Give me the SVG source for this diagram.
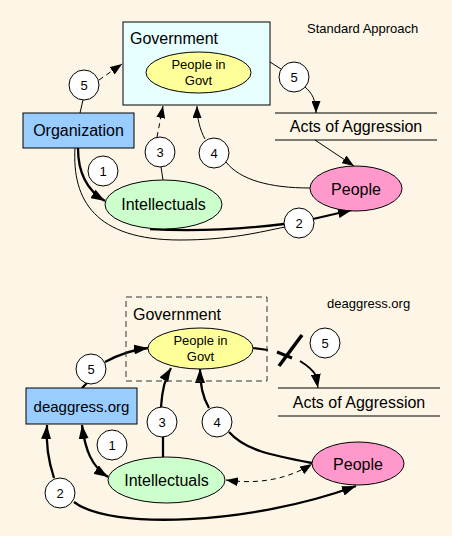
<svg xmlns="http://www.w3.org/2000/svg" width="452" height="536" viewBox="0 0 452 536">
<defs>
<style>
text{font-family:"Liberation Sans",Arial,sans-serif;fill:#000}
.big{font-size:16px}
.mid{font-size:15px}
.sm{font-size:13px}
.num{font-size:13px;text-anchor:middle}
.c{text-anchor:middle}
.node{stroke:#000;stroke-width:1}
.circ{fill:#fff;stroke:#000;stroke-width:1}
.e{fill:none;stroke:#000}
.thin{stroke-width:1}
.thick{stroke-width:2.3}
.dash{stroke-dasharray:5,4}
</style>
<marker id="ah" markerUnits="userSpaceOnUse" viewBox="0 0 14 10" refX="14" refY="5" markerWidth="14" markerHeight="10" orient="auto-start-reverse">
<path d="M0,0 L14,5 L0,10 Z" fill="#000"/>
</marker>
<marker id="ahs" markerUnits="userSpaceOnUse" viewBox="0 0 12 9" refX="12" refY="4.5" markerWidth="12" markerHeight="9" orient="auto-start-reverse">
<path d="M0,0 L12,4.5 L0,9 Z" fill="#000"/>
</marker>
</defs>
<rect x="0" y="0" width="452" height="536" fill="#FDF6E6"/>

<!-- ===== Top diagram ===== -->
<text class="sm" x="307" y="32.5">Standard Approach</text>

<g id="top-connectors">
<path class="e thin" d="M80,113 L83,100"/>
<path class="e thin dash" d="M99,80 L122,64" marker-end="url(#ahs)"/>
<path class="e thick" d="M78,148 C78,175 88,191 105,201" marker-end="url(#ah)"/>
<path class="e thin" d="M75,148 C72,200 95,240 180,240 C230,240 260,232 285,227"/>
<path class="e thick" d="M150,229 C200,232 250,228 284,224"/>
<path class="e thick" d="M313,219 L352,210" marker-end="url(#ah)"/>
<path class="e thin" d="M163,180 L161,167"/>
<path class="e thin dash" d="M157,137 L163,106" marker-end="url(#ahs)"/>
<path class="e thin" d="M310,188 C270,188 240,180 226,162"/>
<path class="e thin" d="M205,139 C200,130 197,118 197,106" marker-end="url(#ahs)"/>
<path class="e thin" d="M270,62 L281,69"/>
<path class="e thin" d="M305,87 C312,93 316,100 316,113" marker-end="url(#ahs)"/>
<path class="e thin" d="M315,140 L354,166" marker-end="url(#ahs)"/>
</g>

<g id="top-government">
<rect class="node" x="123" y="22" width="147" height="83" fill="#E8FFFF"/>
<text class="big" x="130" y="44">Government</text>
</g>
<g id="top-people-in-govt">
<ellipse class="node" cx="198.5" cy="72.5" rx="52.5" ry="20.5" fill="#FFFF99"/>
<text class="sm c" x="198.5" y="68.5">People in</text>
<text class="sm c" x="198.5" y="84.5">Govt</text>
</g>
<g id="top-organization">
<rect class="node" x="23" y="113" width="111" height="35" fill="#99CCFF"/>
<text class="big c" x="78.5" y="136">Organization</text>
</g>
<g id="top-intellectuals">
<ellipse class="node" cx="163.5" cy="204.5" rx="58.5" ry="24.5" fill="#CCFFCC"/>
<text class="big c" x="163.5" y="210">Intellectuals</text>
</g>
<g id="top-people">
<ellipse class="node" cx="356" cy="188.5" rx="46" ry="22.5" fill="#FF99CC"/>
<text class="big c" x="356" y="194.5">People</text>
</g>
<g id="top-acts">
<line x1="275" y1="113" x2="437" y2="113" stroke="#000" stroke-width="1"/>
<line x1="275" y1="140" x2="437" y2="140" stroke="#000" stroke-width="1"/>
<text class="big c" x="356" y="131.5">Acts of Aggression</text>
</g>
<g id="top-step-labels">
<circle class="circ" cx="84" cy="85" r="15"/><text class="num" x="84" y="89.5">5</text>
<circle class="circ" cx="103" cy="171" r="15"/><text class="num" x="103" y="175.5">1</text>
<circle class="circ" cx="160" cy="152" r="15"/><text class="num" x="160" y="156.5">3</text>
<circle class="circ" cx="214" cy="153" r="15"/><text class="num" x="214" y="157.5">4</text>
<circle class="circ" cx="294" cy="77" r="15"/><text class="num" x="294" y="81.5">5</text>
<circle class="circ" cx="299" cy="223" r="15"/><text class="num" x="299" y="227.5">2</text>
</g>

<!-- ===== Bottom diagram ===== -->
<text class="sm" x="327" y="307.5">deaggress.org</text>

<g id="bottom-connectors">
<path class="e thick" d="M82,388 L87,383"/>
<path class="e thick" d="M105,362 C118,355 130,350 148,348" marker-end="url(#ah)"/>
<path class="e thick" d="M163,457 L163,437"/>
<path class="e thick" d="M161,407 C162,390 165,378 171,368" marker-end="url(#ah)"/>
<path class="e thick" d="M312,463 C270,455 245,450 229,432"/>
<path class="e thick" d="M209,408 C203,398 200,385 200,369" marker-end="url(#ah)"/>
<path class="e thick" d="M82,425 C85,450 92,467 108,477" marker-start="url(#ah)" marker-end="url(#ah)"/>
<path class="e thick" d="M54,478 C48,460 46,440 47,425" marker-end="url(#ah)"/>
<path class="e thick" d="M74,502 C110,530 250,525 356,486" marker-end="url(#ah)"/>
<path class="e thin dash" d="M226,480 C260,485 290,478 312,464" marker-start="url(#ahs)" marker-end="url(#ahs)"/>
<path class="e" stroke-width="2" d="M253,348 L268,350"/>
<path class="e" stroke-width="3" d="M277,352 L292,358"/>
<path class="e" stroke-width="2" d="M300,361 C308,366 314,371 316,376" />
<path class="e" stroke-width="1" d="M316,376 L318,388" marker-end="url(#ah)"/>
<path class="e" stroke-width="3.5" d="M279,366 L302,335"/>
</g>

<g id="bottom-government">
<rect x="126" y="297" width="141" height="84" fill="none" stroke="#333" stroke-width="1" stroke-dasharray="6,4"/>
<text class="big" x="133" y="319.5">Government</text>
</g>
<g id="bottom-people-in-govt">
<ellipse class="node" cx="200.5" cy="348.5" rx="52.5" ry="20.5" fill="#FFFF99"/>
<text class="sm c" x="200.5" y="344.5">People in</text>
<text class="sm c" x="200.5" y="360.5">Govt</text>
</g>
<g id="bottom-deaggress">
<rect class="node" x="26" y="388" width="111" height="36" fill="#99CCFF"/>
<text class="mid c" x="81.5" y="411.5">deaggress.org</text>
</g>
<g id="bottom-intellectuals">
<ellipse class="node" cx="166.5" cy="480" rx="58.5" ry="23" fill="#CCFFCC"/>
<text class="big c" x="166.5" y="485.5">Intellectuals</text>
</g>
<g id="bottom-people">
<ellipse class="node" cx="358" cy="463.5" rx="46" ry="21.5" fill="#FF99CC"/>
<text class="big c" x="358" y="469.5">People</text>
</g>
<g id="bottom-acts">
<line x1="278" y1="388" x2="440" y2="388" stroke="#000" stroke-width="1"/>
<line x1="278" y1="416" x2="440" y2="416" stroke="#000" stroke-width="1"/>
<text class="big c" x="359" y="407.5">Acts of Aggression</text>
</g>
<g id="bottom-step-labels">
<circle class="circ" cx="91" cy="369" r="15"/><text class="num" x="91" y="373.5">5</text>
<circle class="circ" cx="112" cy="445" r="15"/><text class="num" x="112" y="449.5">1</text>
<circle class="circ" cx="162" cy="422" r="15"/><text class="num" x="162" y="426.5">3</text>
<circle class="circ" cx="217" cy="422" r="15"/><text class="num" x="217" y="426.5">4</text>
<circle class="circ" cx="60" cy="493" r="15"/><text class="num" x="60" y="497.5">2</text>
<circle class="circ" cx="325" cy="343" r="15"/><text class="num" x="325" y="347.5">5</text>
</g>
</svg>
